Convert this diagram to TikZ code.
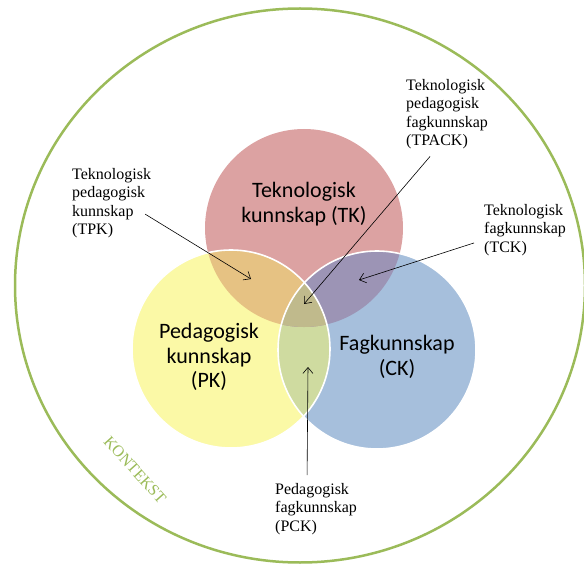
\documentclass[tikz,border=0pt]{standalone}
\usepackage{fontspec}
\setmainfont{Liberation Serif}
\newfontfamily\calibri{Carlito}
\usetikzlibrary{arrows.meta}

\definecolor{kgreen}{HTML}{9BBB59}
\definecolor{tkred}{HTML}{DCA2A2}
\definecolor{pkyellow}{HTML}{FBF9A6}
\definecolor{ckblue}{HTML}{A6BFDC}
\definecolor{tpcol}{HTML}{E6C283}
\definecolor{tccol}{HTML}{9C94B5}
\definecolor{pccol}{HTML}{CFDBA0}
\definecolor{tpccol}{HTML}{C0BA8C}

\begin{document}
\begin{tikzpicture}[x=1pt,y=-1pt,
  big/.style={font=\calibri\fontsize{22}{24.5}\selectfont,align=center},
  small/.style={font=\fontsize{16}{18.5}\selectfont,align=left,anchor=north west,inner sep=0pt},
  pointer/.style={line width=0.6pt,black,-{Straight Barb[length=6pt,width=10pt]}}]
\useasboundingbox (0,0) rectangle (584,564);
% kontekst
\draw [line width=2.5pt,kgreen] (300,285.5) ellipse [x radius=285pt,y radius=277pt];
% the three circles
\coordinate (tkc) at (304,228);
\coordinate (pkc) at (231,349);
\coordinate (ckc) at (377,350);
\fill [tkred]    (tkc) circle [radius=99pt];
\fill [pkyellow] (pkc) circle [radius=99pt];
\fill [ckblue]   (ckc) circle [radius=99pt];
\begin{scope}
  \clip (pkc) circle [radius=99pt];
  \fill [pccol] (ckc) circle [radius=99pt];
\end{scope}
\begin{scope}
  \clip (tkc) circle [radius=99pt];
  \fill [tpcol] (pkc) circle [radius=99pt];
  \fill [tccol] (ckc) circle [radius=99pt];
  \clip (pkc) circle [radius=99pt];
  \fill [tpccol] (ckc) circle [radius=99pt];
\end{scope}
\draw [white,line width=1.6pt] (pkc) circle [radius=99pt];
\draw [white,line width=1.6pt] (ckc) circle [radius=99pt];
% labels
\node (tk) at (304,204) [big] {Teknologisk\\kunnskap (TK)};
\node (pk) at (209,357) [big] {Pedagogisk\\kunnskap\\(PK)};
\node (ck) at (397,357) [big] {Fagkunnskap\\(CK)};
\node (tpk)   at (72,168)  [small] {Teknologisk\\pedagogisk\\kunnskap\\(TPK)};
\node (tpack) at (406,79)  [small] {Teknologisk\\pedagogisk\\fagkunnskap\\(TPACK)};
\node (tck)   at (484,204) [small] {Teknologisk\\fagkunnskap\\(TCK)};
\node (pck)   at (275,483) [small] {Pedagogisk\\fagkunnskap\\(PCK)};
\node (kontekst) at (135,470) [rotate=-48,text=kgreen,font=\fontsize{16}{16}\selectfont] {KONTEKST};
% pointers
\coordinate (tp-pt)  at (251,279);
\coordinate (tpc-pt) at (304,304);
\coordinate (tc-pt)  at (359,280);
\coordinate (pc-pt)  at (308,367);
\draw [pointer] ([xshift=-6pt,yshift=-11pt]tpk.east)    to (tp-pt);
\draw [pointer] ([xshift=-17pt,yshift=-7pt]tpack.south) to (tpc-pt);
\draw [pointer] ([xshift=-10pt,yshift=-13pt]tck.west)   to (tc-pt);
\draw [pointer] ([xshift=-9pt,yshift=8pt]pck.north)     to (pc-pt);
\end{tikzpicture}
\end{document}
